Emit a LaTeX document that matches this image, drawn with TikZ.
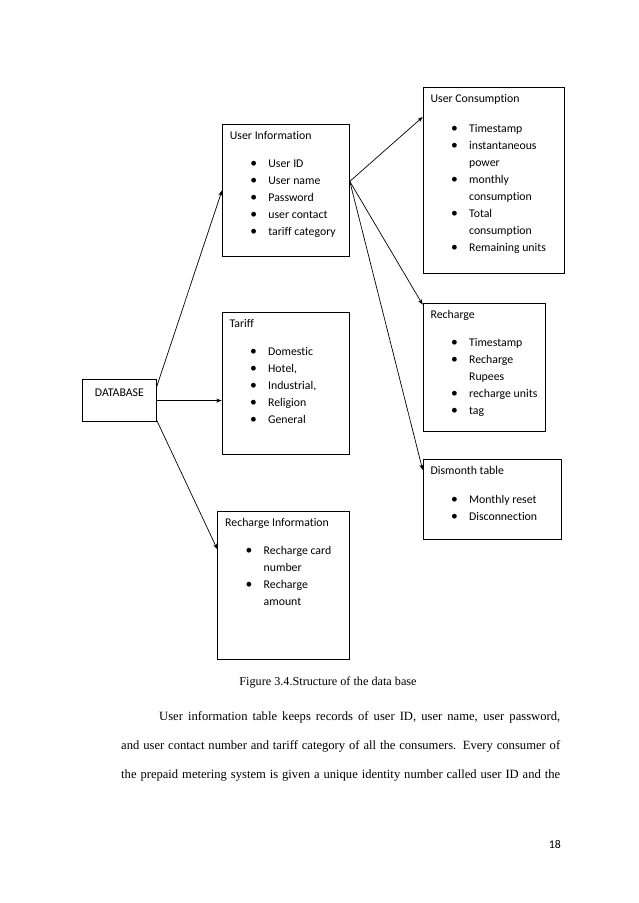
\documentclass[tikz,border=0pt]{standalone}
\usepackage{fontspec}
\setmainfont[Ligatures=NoCommon]{Liberation Serif}
\newfontfamily\calfont[Ligatures=NoCommon]{Carlito}
\usetikzlibrary{arrows.meta,calc}
\newcommand{\bxtitle}[2]{\hspace*{7.5pt}\rule{0pt}{15pt}#1\par\vspace{#2}}
\newcommand{\bl}[1]{\hspace*{28pt}\makebox[18pt][l]{\scalebox{1.15}{\textbullet}}#1\par}
\newcommand{\cl}[1]{\hspace*{46pt}#1\par}
\newcommand{\bxc}[3]{\parbox[t][#2][t]{#1}{\baselineskip=17pt\relax #3}}
\tikzset{
  tbox/.style={draw, line width=0.8pt, anchor=north west, inner sep=0pt,
    font=\calfont\fontsize{11.8}{17}\selectfont},
  arr/.style={-{Stealth[length=5.5pt,width=4pt]}, line width=0.7pt},
  body/.style={anchor=base west, inner sep=0pt, font=\fontsize{12.6}{15}\selectfont}
}
\begin{document}
\begin{tikzpicture}[x=1pt,y=-1pt]
\useasboundingbox[fill=white] (0,0) rectangle (638,903);

\node[tbox] (db) at (82.3,379.3) {\parbox[t][41.7pt][t]{73.4pt}{\centering\rule{0pt}{17pt}DATABASE}};

\node[tbox] (ui) at (222,124) {\bxc{127pt}{132pt}{%
  \bxtitle{User Information}{11pt}
  \bl{User ID}\bl{User name}\bl{Password}\bl{user contact}\bl{tariff category}}};

\node[tbox] (tf) at (221.7,311.7) {\bxc{127.6pt}{142.3pt}{%
  \bxtitle{Tariff}{11pt}
  \bl{Domestic}\bl{Hotel,}\bl{Industrial,}\bl{Religion}\bl{General}}};

\node[tbox] (ri) at (217.3,510.7) {\bxc{131.7pt}{148.3pt}{%
  \bxtitle{Recharge Information}{11pt}
  \bl{Recharge card}\cl{number}\bl{Recharge}\cl{amount}}};

\node[tbox] (uc) at (422.7,87) {\bxc{141.3pt}{186pt}{%
  \bxtitle{User Consumption}{13pt}
  \bl{Timestamp}\bl{instantaneous}\cl{power}\bl{monthly}\cl{consumption}%
  \bl{Total}\cl{consumption}\bl{Remaining units}}};

\node[tbox] (rc) at (422.7,302.7) {\bxc{122.3pt}{128.3pt}{%
  \bxtitle{Recharge}{11pt}
  \bl{Timestamp}\bl{Recharge}\cl{Rupees}\bl{recharge units}\bl{tag}}};

\node[tbox] (dm) at (422.7,459) {\bxc{138pt}{79.7pt}{%
  \bxtitle{Dismonth table}{12pt}
  \bl{Monthly reset}\bl{Disconnection}}};

\draw[arr] ([yshift=-8pt]db.north east) -- (ui.west);
\draw[arr] (db.east) -- (db.east -| tf.west);
\draw[arr] ([yshift=2pt]db.south east) -- ([yshift=36pt]ri.west);
\draw[arr] ([yshift=9pt]ui.east) -- ([yshift=-30pt]uc.north west);
\draw[arr] ([yshift=9pt]ui.east) -- ([yshift=-2pt]rc.north west);
\draw[arr] ([yshift=9pt]ui.east) -- ([yshift=-11pt]dm.north west);

\node[anchor=base, inner sep=0pt, font=\fontsize{12.2}{14}\selectfont] (cap) at (328,685) {Figure 3.4.Structure of the data base};

\node[body] (p1) at (159,720) {\makebox[401pt][s]{User information table keeps records of user ID, user name, user password,}};
\node[body] (p2) at (121,749) {\makebox[439pt][s]{and user contact number and tariff category of all the consumers. Every consumer of}};
\node[body] (p3) at (121,778) {\makebox[439pt][s]{the prepaid metering system is given a unique identity number called user ID and the}};

\node[anchor=base east, inner sep=0pt, font=\calfont\fontsize{11.8}{14}\selectfont] (pg) at (561,848) {18};
\end{tikzpicture}
\end{document}
